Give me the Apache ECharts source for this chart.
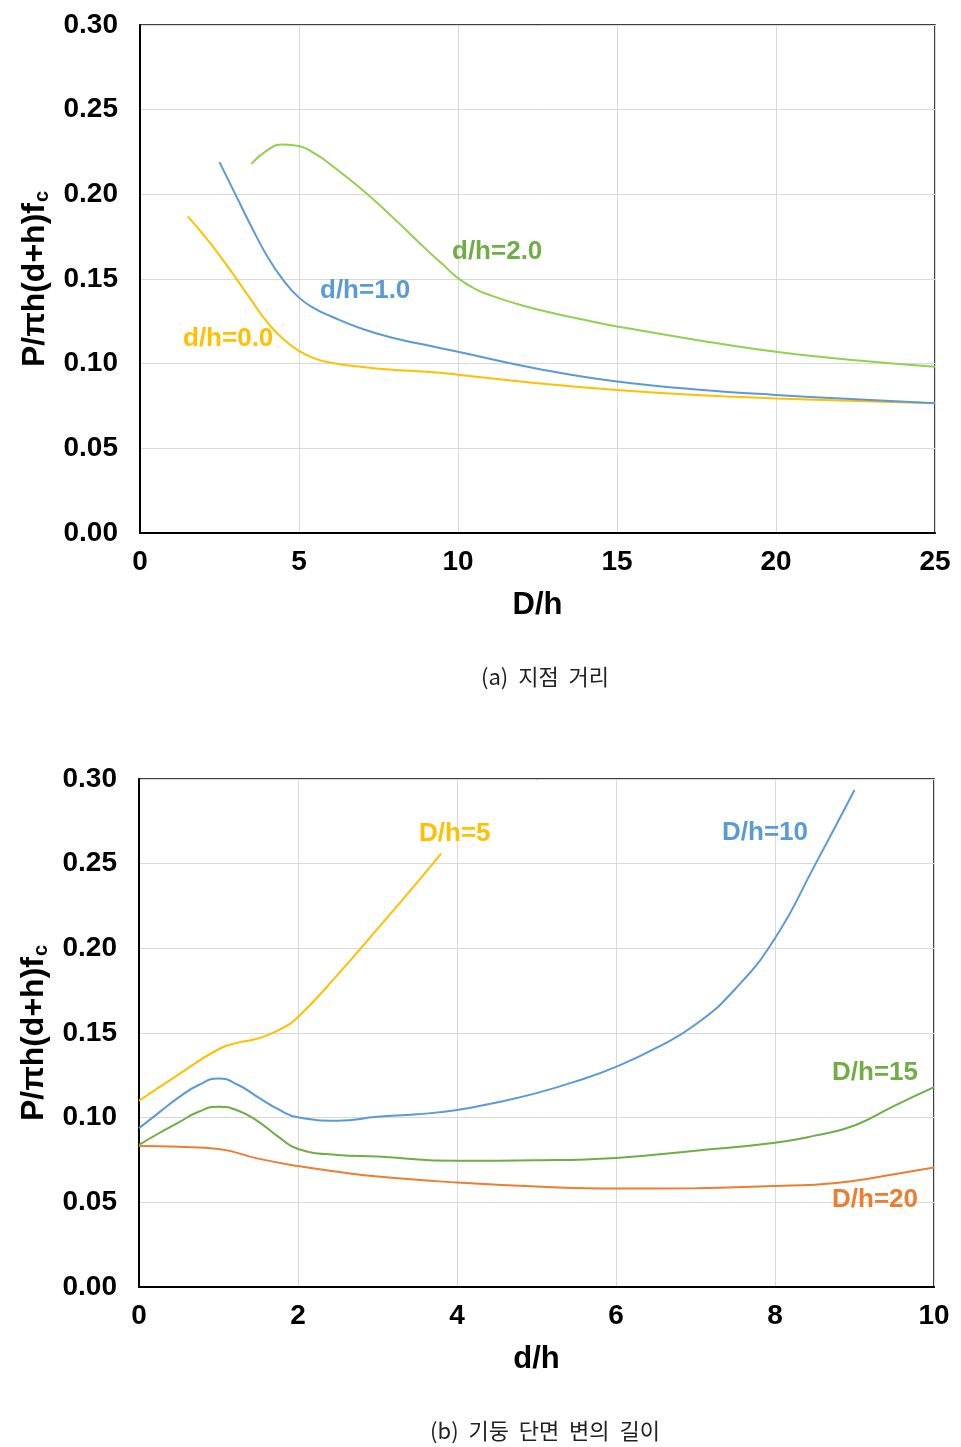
<!DOCTYPE html>
<html><head><meta charset="utf-8">
<script src="https://cdn.jsdelivr.net/npm/echarts@6/dist/echarts.min.js"></script>
<style>html,body{margin:0;padding:0;background:#fff}#c{width:961px;height:1447px}</style>
</head><body><div id="c"></div>
<script>
// ---- Data (a): P/πh(d+h)fc vs D/h ----
const a_dh00 = [[1.5,0.187],[2.0,0.176],[2.5,0.164],[3.0,0.151],[3.5,0.1375],[4.0,0.1245],[4.5,0.1145],[5.0,0.1075],[5.5,0.103],[6.0,0.1005],[7.0,0.098],[8.0,0.0963],[9.0,0.0952],[10.0,0.0935],[12.5,0.0885],[15.0,0.0845],[17.5,0.0815],[20.0,0.0795],[22.5,0.078],[25.0,0.0766]];
const a_dh10 = [[2.5,0.219],[3.0,0.200],[3.5,0.181],[4.0,0.1635],[4.5,0.1495],[5.0,0.139],[5.5,0.1325],[6.0,0.128],[7.0,0.1205],[8.0,0.115],[9.0,0.111],[10.0,0.107],[12.5,0.097],[15.0,0.0894],[17.5,0.0848],[20.0,0.0815],[22.5,0.079],[25.0,0.0766]];
const a_dh20 = [[3.5,0.218],[4.0,0.226],[4.5,0.2295],[5.0,0.2285],[5.5,0.224],[6.0,0.2175],[7.0,0.2025],[8.0,0.1855],[9.0,0.1675],[9.5,0.159],[10.0,0.1505],[10.5,0.1445],[11.0,0.1405],[12.0,0.1345],[13.0,0.1298],[14.0,0.1258],[15.0,0.122],[17.5,0.114],[20.0,0.107],[22.5,0.102],[25.0,0.0982]];
// ---- Data (b): P/πh(d+h)fc vs d/h ----
const b_D5  = [[0,0.110],[0.5,0.1256],[1.0,0.1404],[1.25,0.1443],[1.5,0.1468],[1.75,0.1515],[2.0,0.1595],[2.5,0.1845],[3.0,0.2115],[3.5,0.239],[3.8,0.256]];
const b_D10 = [[0,0.0937],[0.25,0.103],[0.5,0.112],[0.75,0.1193],[1.0,0.1232],[1.25,0.1193],[1.5,0.112],[1.75,0.105],[2.0,0.1002],[2.5,0.0982],[3.0,0.1005],[3.5,0.102],[4.0,0.1045],[4.5,0.109],[5.0,0.1145],[5.5,0.1215],[6.0,0.130],[6.5,0.141],[7.0,0.155],[7.5,0.176],[8.0,0.206],[8.5,0.249],[9.0,0.2935]];
const b_D15 = [[0,0.0839],[0.25,0.0908],[0.5,0.0972],[0.75,0.1035],[1.0,0.1065],[1.25,0.1041],[1.5,0.0977],[1.75,0.0888],[2.0,0.0815],[2.5,0.078],[3.0,0.077],[4.0,0.0745],[5.0,0.0748],[6.0,0.0762],[7.0,0.0805],[8.0,0.0852],[8.5,0.0894],[9.0,0.0954],[9.5,0.107],[10.0,0.118]];
const b_D20 = [[0,0.0833],[0.5,0.0828],[1.0,0.0815],[1.5,0.0758],[2.0,0.0714],[2.5,0.0681],[3.0,0.0652],[4.0,0.0617],[5.0,0.0593],[6.0,0.0581],[7.0,0.0583],[8.0,0.0597],[8.5,0.0604],[9.0,0.0627],[9.5,0.0666],[10.0,0.0706]];
const yTicks = {min:0, max:0.30, interval:0.05};
const xTicksA = {min:0, max:25, interval:5};
const xTicksB = {min:0, max:10, interval:2};
const captionA = '(a)  지점  거리';
const captionB = '(b)  기둥  단면  변의  길이';

const FONT = '"Liberation Sans", Arial, sans-serif';
const chart = echarts.init(document.getElementById('c'), null, {renderer:'canvas'});

function xAx(idx, t, name){
  return {gridIndex:idx, type:'value', min:t.min, max:t.max, interval:t.interval,
    name:name, nameLocation:'middle', nameGap:57,
    nameTextStyle:{fontFamily:FONT, fontWeight:'bold', fontSize:31, color:'#000'},
    axisLine:{show:true, onZero:false, lineStyle:{color:'#000', width:2}},
    axisTick:{show:false},
    axisLabel:{fontFamily:FONT, fontWeight:'bold', fontSize:28, color:'#000', margin:15},
    splitLine:{show:true, lineStyle:{color:'#d9d9d9', width:1}}};
}
function yAx(idx){
  return {gridIndex:idx, type:'value', min:yTicks.min, max:yTicks.max, interval:yTicks.interval,
    name:'{a|P/πh(d+h)f}{b|c}', nameLocation:'middle', nameGap:87, nameRotate:90,
    nameTextStyle:{rich:{
      a:{fontFamily:FONT, fontWeight:'bold', fontSize:32, color:'#000', lineHeight:34},
      b:{fontFamily:FONT, fontWeight:'bold', fontSize:20, color:'#000', verticalAlign:'bottom', lineHeight:22, padding:[10,0,0,1]}}},
    axisLine:{show:true, lineStyle:{color:'#000', width:2}},
    axisTick:{show:false},
    axisLabel:{fontFamily:FONT, fontWeight:'bold', fontSize:28, color:'#000', margin:22,
      formatter:v=>v.toFixed(2)},
    splitLine:{show:true, lineStyle:{color:'#d9d9d9', width:1}}};
}
function line(data, color, xi){
  return {type:'line', data:data, xAxisIndex:xi, yAxisIndex:xi, smooth:0.5, showSymbol:false,
    symbol:'none', lineStyle:{color:color, width:2}, itemStyle:{color:color}, z:3};
}
function lbl(text, x, y, color){
  return {type:'text', left:x, top:y, style:{text:text, fill:color, font:'bold 26px '+FONT}, z:10};
}
function cap(text, y){
  return {type:'text', x:545, y:y, style:{text:text, fill:'#222', textAlign:'center', textVerticalAlign:'middle', font:'22px "Noto Sans CJK KR", sans-serif'}, z:10};
}

chart.setOption({
  animation:false,
  backgroundColor:'#fff',
  grid:[
    {left:140, top:25, width:795, height:508, show:true, borderColor:'#000', borderWidth:1.5, backgroundColor:'transparent'},
    {left:139, top:779, width:795, height:508, show:true, borderColor:'#000', borderWidth:1.5, backgroundColor:'transparent'}
  ],
  xAxis:[xAx(0, xTicksA, 'D/h'), xAx(1, xTicksB, 'd/h')],
  yAxis:[yAx(0), yAx(1)],
  series:[
    line(a_dh00, '#FFC000', 0),
    line(a_dh10, '#5B9BD5', 0),
    line(a_dh20, '#92D050', 0),
    line(b_D5,  '#FFC000', 1),
    line(b_D10, '#5B9BD5', 1),
    line(b_D15, '#70AD47', 1),
    line(b_D20, '#ED7D31', 1)
  ],
  graphic:[
    lbl('d/h=2.0', 452, 239, '#70AD47'),
    lbl('d/h=1.0', 320, 278, '#5B9BD5'),
    lbl('d/h=0.0', 183, 326, '#FFC000'),
    lbl('D/h=5', 419, 821, '#FFC000'),
    lbl('D/h=10', 722, 820, '#5B9BD5'),
    lbl('D/h=15', 832, 1060, '#70AD47'),
    lbl('D/h=20', 832, 1187, '#ED7D31'),
    cap(captionA, 677),
    cap(captionB, 1431)
  ]
});
</script></body></html>
